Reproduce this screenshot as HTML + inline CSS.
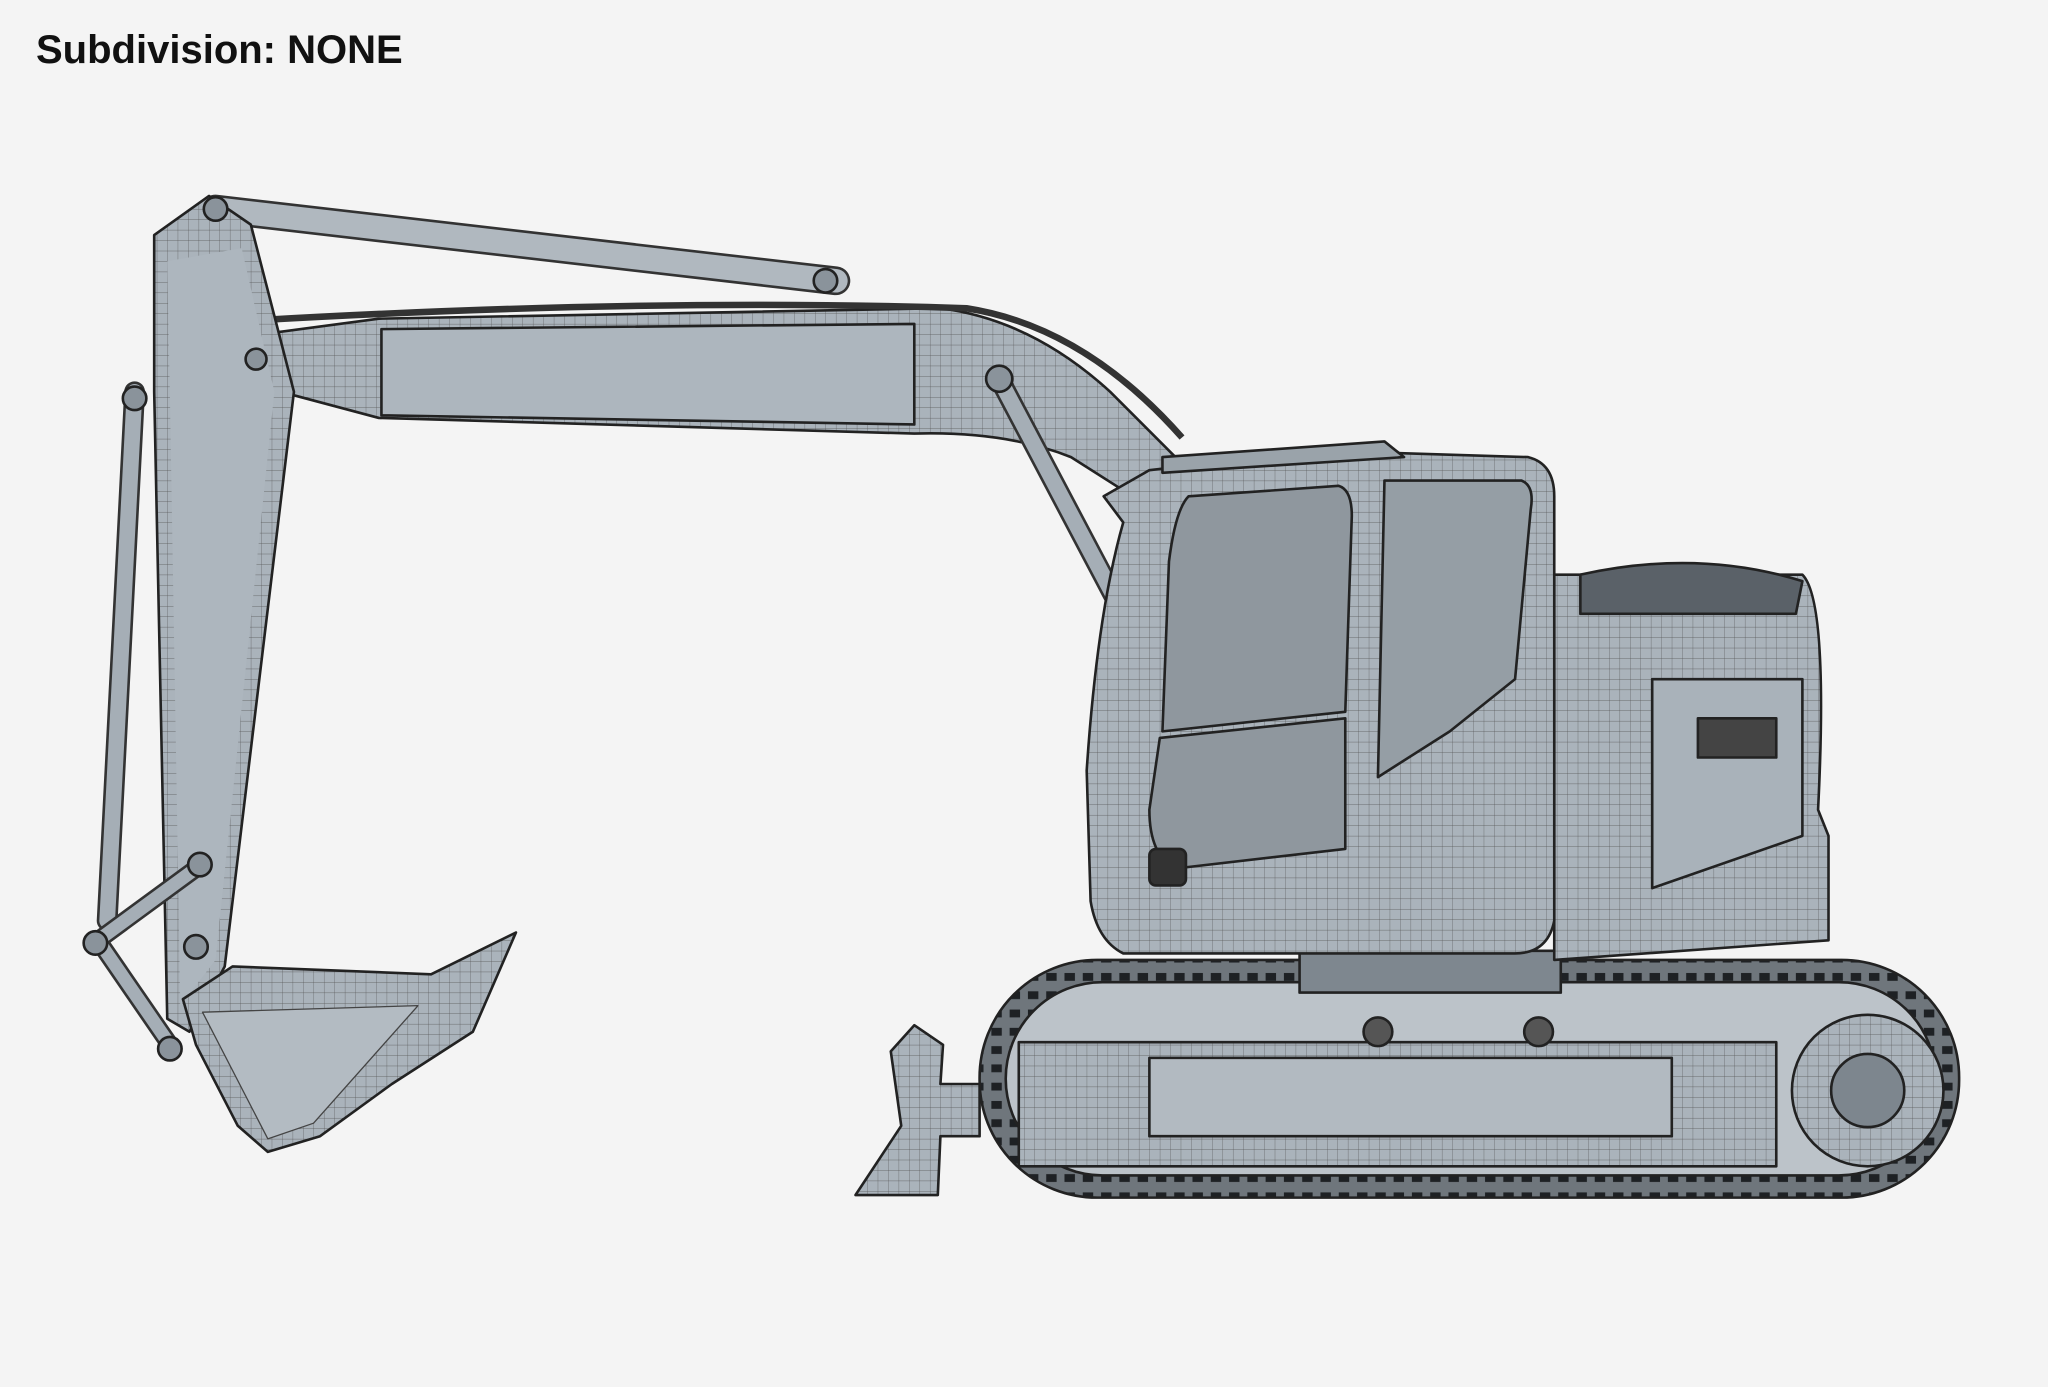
<!DOCTYPE html>
<html><head><meta charset="utf-8"><style>
html,body{margin:0;padding:0;background:#f4f4f4;}
body{width:2048px;height:1387px;overflow:hidden;position:relative;}
.t{position:absolute;left:36px;top:28px;font:bold 40px "Liberation Sans",sans-serif;color:#111;letter-spacing:0px;}
svg{position:absolute;left:0;top:0;}
</style></head><body>
<div class="t">Subdivision: NONE</div>
<svg width="2048" height="1387" viewBox="0 0 1568 1062">
<defs>
<pattern id="g" width="8" height="8" patternUnits="userSpaceOnUse"><rect width="8" height="8" fill="#aab3bb"/><path d="M0 0H8M0 0V8" stroke="#555" stroke-width="0.5"/></pattern>
<pattern id="tr" width="14" height="14" patternUnits="userSpaceOnUse"><rect width="14" height="14" fill="#6f767c"/><rect x="3" y="3" width="8" height="6" fill="#1e2124"/></pattern>
</defs>
<g stroke="#222" stroke-width="2" stroke-linejoin="round">
<path d="M165 160 L640 215" stroke="#333" stroke-width="22" stroke-linecap="round"/>
<path d="M165 160 L640 215" stroke="#b0b8bf" stroke-width="18" stroke-linecap="round"/>
<path d="M185 258 L290 244 L720 236 Q790 245 850 300 L905 355 L875 385 L820 350 Q770 330 700 332 L290 320 L215 300 Z" fill="url(#g)"/>
<path d="M292 252 L700 248 L700 325 L292 318 Z" fill="#adb6be"/>
<path d="M765 290 L860 470" stroke="#333" stroke-width="16" stroke-linecap="round"/>
<path d="M765 290 L860 470" stroke="#a5aeb6" stroke-width="12" stroke-linecap="round"/>
<path d="M200 245 Q500 228 740 236 Q830 250 905 335" fill="none" stroke="#333" stroke-width="5"/>
<path d="M150 275 Q140 360 200 390 Q230 350 215 290" fill="none" stroke="#333" stroke-width="3"/>
<path d="M118 180 L160 150 L192 172 L225 300 L172 740 L145 790 L128 780 L118 300 Z" fill="url(#g)"/>
<path d="M128 200 L185 190 L210 300 L165 735 L138 770 L130 300Z" fill="#adb6be" stroke="none"/>
<path d="M103 300 L82 705" stroke="#333" stroke-width="16" stroke-linecap="round"/>
<path d="M103 300 L82 705" stroke="#a5aeb6" stroke-width="12" stroke-linecap="round"/>
<path d="M75 720 L150 665 M75 720 L130 800" stroke="#333" stroke-width="14" stroke-linecap="round"/>
<path d="M75 720 L150 665 M75 720 L130 800" stroke="#a5aeb6" stroke-width="10" stroke-linecap="round"/>
<path d="M140 765 L178 740 L330 746 L395 714 L362 790 L300 830 L245 870 L205 882 L182 862 L150 800 Z" fill="url(#g)"/>
<path d="M155 775 L320 770 L240 860 L205 872 Z" fill="#b3bbc2" stroke="#444" stroke-width="1"/>
<g fill="#8a939b" stroke="#222" stroke-width="2">
<circle cx="165" cy="160" r="9"/><circle cx="196" cy="275" r="8"/><circle cx="103" cy="305" r="9"/><circle cx="632" cy="215" r="9"/><circle cx="765" cy="290" r="10"/><circle cx="153" cy="662" r="9"/><circle cx="150" cy="725" r="9"/><circle cx="73" cy="722" r="9"/><circle cx="130" cy="803" r="9"/>
</g>
<rect x="750" y="735" width="750" height="182" rx="90" fill="url(#tr)"/>
<rect x="770" y="752" width="712" height="148" rx="74" fill="#bcc3c9"/>
<rect x="780" y="798" width="580" height="95" fill="url(#g)"/>
<rect x="880" y="810" width="400" height="60" fill="#b2bac1"/>
<circle cx="1430" cy="835" r="58" fill="url(#g)"/>
<circle cx="1430" cy="835" r="28" fill="#7d868e"/>
<circle cx="1055" cy="790" r="11" fill="#555"/><circle cx="1178" cy="790" r="11" fill="#555"/>
<path d="M655 915 L690 862 L682 805 L700 785 L722 800 L720 830 L750 830 L750 870 L720 870 L718 915 Z" fill="url(#g)"/>
<rect x="995" y="728" width="200" height="32" fill="#7e878f"/>
<path d="M1190 440 L1380 440 Q1400 460 1392 620 L1400 640 L1400 720 L1190 735 Z" fill="url(#g)"/>
<path d="M1265 520 L1380 520 L1380 640 L1265 680 Z" fill="#a9b2ba"/>
<rect x="1300" y="550" width="60" height="30" fill="#444"/>
<path d="M1210 440 Q1300 420 1380 445 L1375 470 L1210 470Z" fill="#5a6168"/>
<path d="M845 380 L880 360 L1010 345 L1170 350 Q1190 355 1190 380 L1190 705 Q1185 730 1160 730 L860 730 Q840 720 835 690 L832 590 Q840 470 860 400 Z" fill="url(#g)"/>
<path d="M910 380 L1025 372 Q1035 375 1035 395 L1030 545 L890 560 L895 430 Q900 390 910 380 Z" fill="#8f979e"/>
<path d="M888 565 L1030 550 L1030 650 L900 665 Q880 655 880 620 Z" fill="#8f979e"/>
<path d="M1060 368 L1165 368 Q1175 372 1172 390 L1160 520 L1110 560 L1055 595 Z" fill="#959ea5"/>
<rect x="880" y="650" width="28" height="28" rx="5" fill="#333"/>
<path d="M890 350 L1060 338 L1075 350 L890 362Z" fill="#9aa3aa"/>
</g>
</svg>
</body></html>
